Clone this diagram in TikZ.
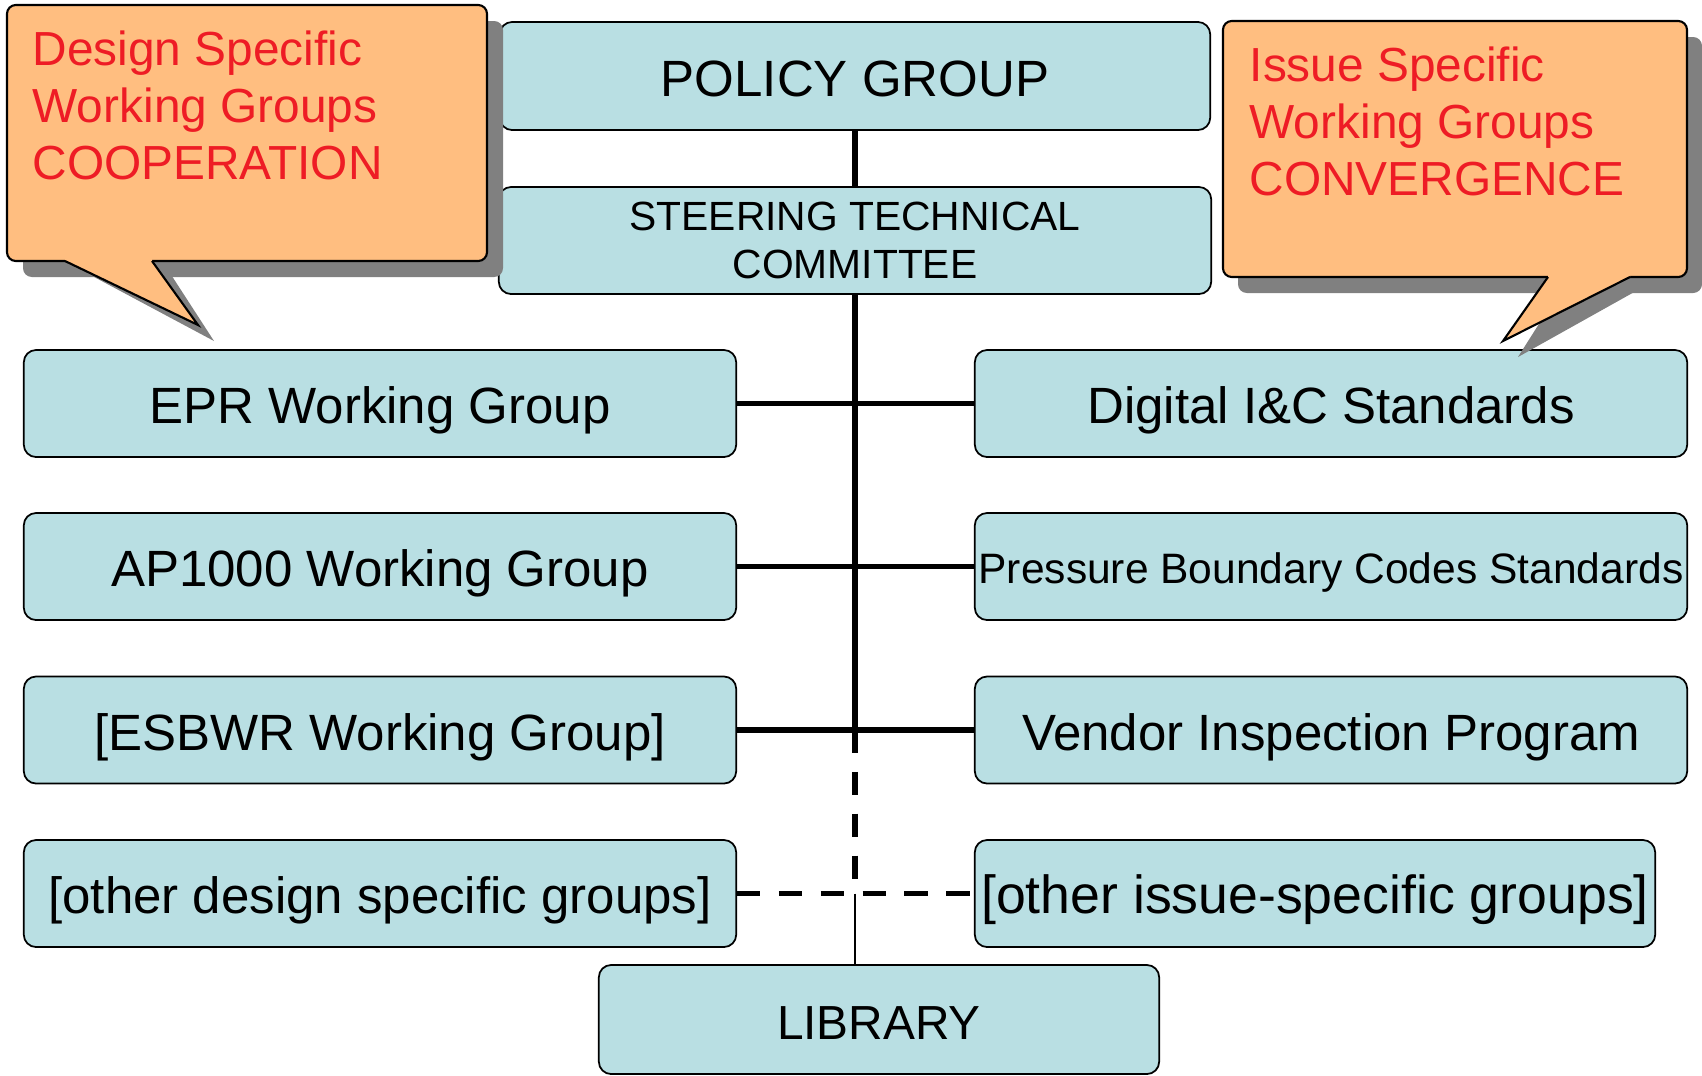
\documentclass[tikz,border=0pt]{standalone}
\usepackage{fontspec}
\setmainfont{Liberation Sans}
\definecolor{boxblue}{RGB}{185,223,227}
\definecolor{noteorange}{RGB}{255,190,128}
\definecolor{notered}{RGB}{238,28,37}
\definecolor{shadowgray}{RGB}{128,128,128}
\tikzset{
    grp/.style={draw, fill=boxblue, rounded corners=3.5pt, line width=0.5pt, inner sep=0pt,
        minimum width=7.12cm, minimum height=1.07cm, text height=12.4pt, text depth=1pt,
        font=\fontsize{14.5}{17}\selectfont},
    link/.style={line width=1.5pt},
    dashlink/.style={line width=1.6pt, dash pattern=on 6.6pt off 5.3pt},
    notetext/.style={anchor=north west, inner sep=0pt, align=left, text=notered,
        font=\fontsize{13.6}{16.2}\selectfont},
}
\begin{document}
\begin{tikzpicture}[x=0.01cm,y=-0.01cm]
        \useasboundingbox (0,0) rectangle (1702,1075);
        %Top boxes
            \node (policy) [grp, minimum width=7.10cm, minimum height=1.08cm] at (855,76) {POLICY GROUP};
            \node (steer) [grp, text height=, text depth=, align=center, font=\fontsize{11.6}{13.7}\selectfont] at (855,240.5) {STEERING TECHNICAL\\COMMITTEE};
        %Design specific groups
            \node (epr) [grp] at (380,403.5) {EPR Working Group};
            \node (ap) [grp] at (380,566.5) {AP1000 Working Group};
            \node (esbwr) [grp] at (380,730) {[ESBWR Working Group]};
            \node (otherdesign) [grp] at (380,893.5) {[other design specific groups]};
        %Issue specific groups
            \node (digital) [grp] at (1331,403.5) {Digital I\&C Standards};
            \node (pressure) [grp, text height=10.9pt, font=\fontsize{12.1}{14}\selectfont] at (1331,566.5) {Pressure Boundary Codes Standards};
            \node (vendor) [grp] at (1331,730) {Vendor Inspection Program};
            \node (otherissue) [grp, minimum width=6.80cm, font=\fontsize{15.25}{18}\selectfont] at (1315,893.5) {[other issue-specific groups]};
        %Library
            \node (library) [grp, minimum width=5.60cm, minimum height=1.09cm, font=\fontsize{13.6}{16}\selectfont] at (879,1019.5) {LIBRARY};
        %Trunk
            \coordinate (split) at (steer.south |- esbwr.east);
            \coordinate (joint) at (steer.south |- otherdesign.east);
            \draw[link] (policy) -- (steer);
            \draw[link] (steer.south) -- (split);
            \draw[dashlink] (split) -- (joint);
            \draw[line width=0.45pt] (joint) -- (joint |- library.north);
        %Branches
            \draw[link] (epr) -- (digital);
            \draw[link] (ap) -- (pressure);
            \draw[link] (esbwr) -- (vendor);
            \draw[dashlink] (otherdesign) -- (otherissue);
        %Design note
            \fill[shadowgray, rounded corners=2.5pt] (23,21) rectangle (503,277);
            \fill[shadowgray] (81,270) -- (214,341) -- (168,270) -- cycle;
            \draw[fill=noteorange, rounded corners=2.5pt, line width=0.6pt] (7,5) rectangle (487,261);
            \fill[noteorange] (65,255) -- (65,261) -- (198,325) -- (152,261) -- (152,255) -- cycle;
            \draw[line width=0.6pt, line join=miter] (65,261) -- (198,325) -- (152,261);
            \node (designnote) [notetext] at (32,30) {Design Specific\\Working Groups\\COOPERATION};
        %Issue note
            \fill[shadowgray, rounded corners=2.5pt] (1238,37) rectangle (1702,293);
            \fill[shadowgray] (1563,286) -- (1518,357) -- (1645,286) -- cycle;
            \draw[fill=noteorange, rounded corners=2.5pt, line width=0.6pt] (1223,21) rectangle (1687,277);
            \fill[noteorange] (1548,271) -- (1548,277) -- (1503,341) -- (1630,277) -- (1630,271) -- cycle;
            \draw[line width=0.6pt, line join=miter] (1548,277) -- (1503,341) -- (1630,277);
            \node (issuenote) [notetext] at (1249,46) {Issue Specific\\Working Groups\\CONVERGENCE};
\end{tikzpicture}
\end{document}
